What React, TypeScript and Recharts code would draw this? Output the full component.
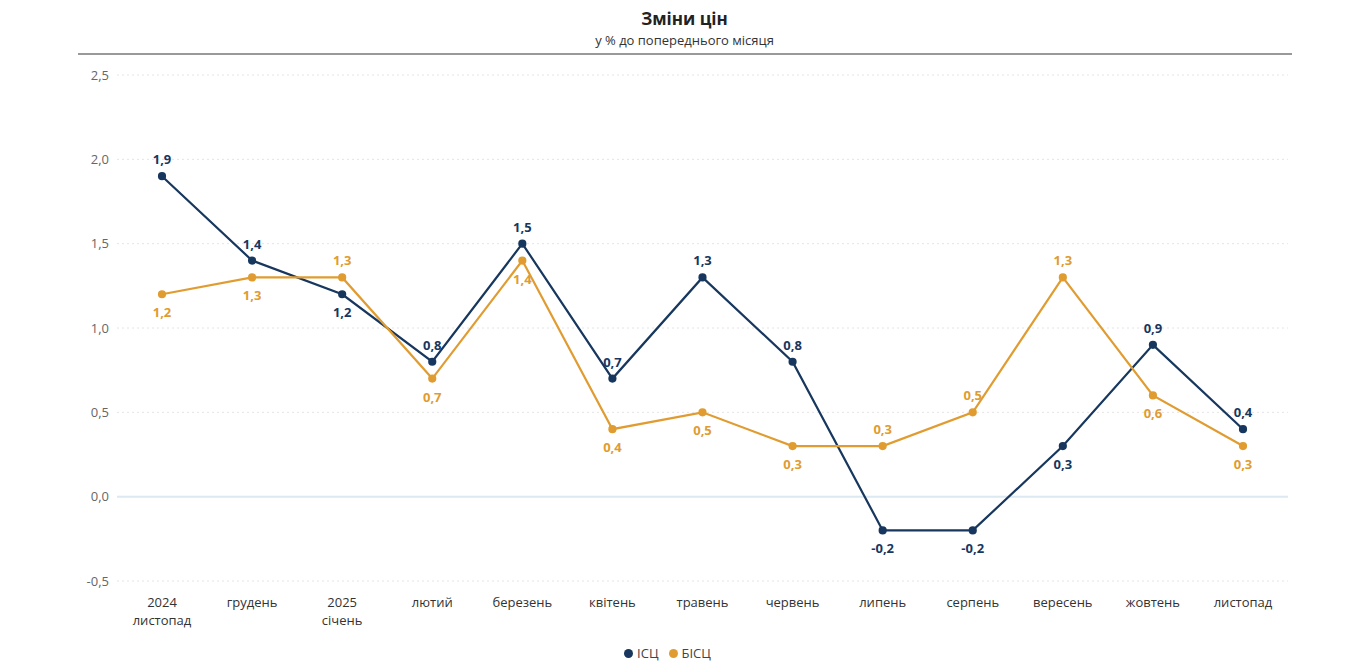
import { LineChart, Line, XAxis, YAxis, CartesianGrid, Legend, ReferenceLine } from 'recharts';

const months = ['2024\nлистопад', 'грудень', '2025\nсічень', 'лютий', 'березень', 'квітень', 'травень', 'червень', 'липень', 'серпень', 'вересень', 'жовтень', 'листопад'];
const icsc = [1.9, 1.4, 1.2, 0.8, 1.5, 0.7, 1.3, 0.8, -0.2, -0.2, 0.3, 0.9, 0.4];
const bicsc = [1.2, 1.3, 1.3, 0.7, 1.4, 0.4, 0.5, 0.3, 0.3, 0.5, 1.3, 0.6, 0.3];
const yTicks = [-0.5, 0, 0.5, 1, 1.5, 2, 2.5];

const data = months.map((m, i) => ({ m, a: icsc[i], b: bicsc[i] }));

const NAVY = '#17375e';
const ORANGE = '#e09c30';
const fmt = (v: number) => v.toFixed(1).replace('.', ',');

const MonthTick = (props: any) => {
  const { x, y, payload } = props;
  const lines = String(payload.value).split('\n');
  return (
    <text x={x} y={y + 6} textAnchor="middle" fill="#333" fontSize={13}>
      {lines.map((l, i) => (
        <tspan key={i} x={x} dy={i === 0 ? 12 : 18}>{l}</tspan>
      ))}
    </text>
  );
};

const makeLabel = (own: number[], other: number[], color: string) => (props: any) => {
  const { x, y, index } = props;
  const above = own[index] > other[index];
  return (
    <text x={x} y={above ? y - 12 : y + 23} textAnchor="middle" fill={color} fontSize={13} fontWeight={700}>
      {fmt(own[index])}
    </text>
  );
};

export default function App() {
  return (
    <div style={{ width: 1353, fontFamily: '"Open Sans", "Noto Sans", sans-serif' }}>
      <div style={{ height: 50, textAlign: 'center', position: 'relative' }}>
        <div style={{ fontWeight: 700, fontSize: 17, color: '#222', lineHeight: '22px' }}>Зміни цін</div>
        <div style={{ fontSize: 13, color: '#333', lineHeight: '20px' }}>у % до попереднього місяця</div>
        <div style={{ position: 'absolute', left: 70, width: 1214, top: 45, height: 2, background: '#999' }} />
      </div>
      <LineChart width={1353} height={610} data={data} margin={{ top: 17, right: 73, bottom: 3, left: 49 }}>
        <CartesianGrid vertical={false} stroke="#e4e4e4" strokeDasharray="2 3" />
        <XAxis dataKey="m" tick={<MonthTick />} tickLine={false} axisLine={false} height={60} interval={0}
          padding={{ left: 45, right: 45 }} />
        <YAxis domain={[-0.5, 2.5]} ticks={yTicks} tickFormatter={fmt} tickLine={false} axisLine={false} width={60} tick={{ fill: '#666', fontSize: 13 }} />
        <ReferenceLine y={0} stroke="#dce8f2" strokeWidth={2} />
        <Legend verticalAlign="bottom" height={24} iconType="circle" iconSize={9}
          formatter={(v) => <span style={{ color: '#444', fontSize: 13 }}>{v}</span>} />
        <Line dataKey="a" name="ІСЦ" stroke={NAVY} strokeWidth={2.2} dot={{ r: 3, fill: NAVY, stroke: NAVY }}
          label={makeLabel(icsc, bicsc, NAVY)} isAnimationActive={false} />
        <Line dataKey="b" name="БІСЦ" stroke={ORANGE} strokeWidth={2.2} dot={{ r: 3, fill: ORANGE, stroke: ORANGE }}
          label={makeLabel(bicsc, icsc, ORANGE)} isAnimationActive={false} />
      </LineChart>
    </div>
  );
}
